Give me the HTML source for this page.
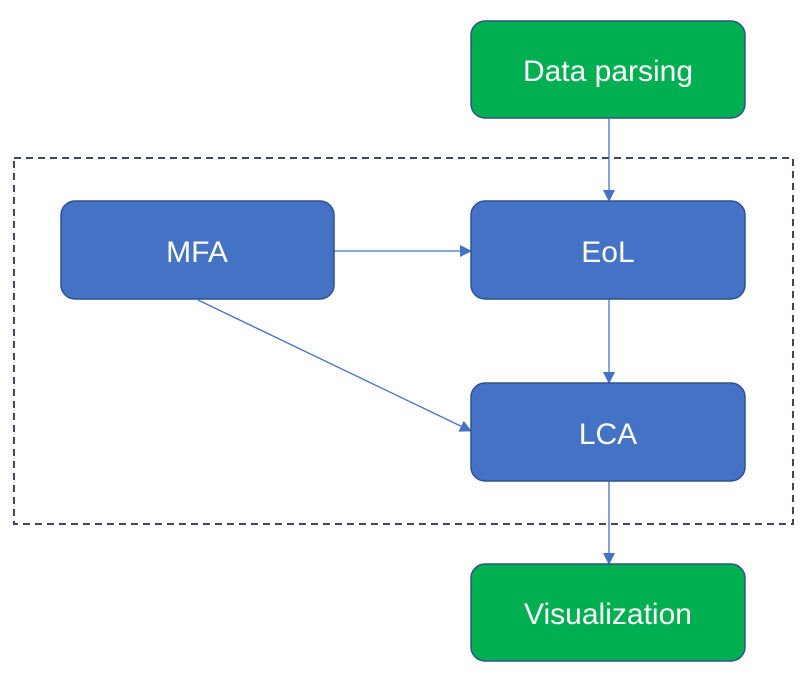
<!DOCTYPE html>
<html><head><meta charset="utf-8"><style>
html,body{margin:0;padding:0;background:#fff;}
</style></head><body>
<svg width="812" height="685" viewBox="0 0 812 685" xmlns="http://www.w3.org/2000/svg" font-family="Liberation Sans, sans-serif">
<defs><marker id="a" markerWidth="12" markerHeight="12" refX="11" refY="6" orient="auto" markerUnits="userSpaceOnUse"><path d="M0,0 L12,6 L0,12 z" fill="#4472c4"/></marker></defs>
<rect x="14" y="158" width="779" height="366" fill="none" stroke="#3b4a60" stroke-width="2" stroke-dasharray="7,5"/>
<g stroke="#4472c4" stroke-width="1.3" fill="none" marker-end="url(#a)">
<line x1="609" y1="119" x2="609" y2="201"/>
<line x1="334" y1="251" x2="471" y2="251"/>
<line x1="609" y1="299" x2="609" y2="383"/>
<line x1="198" y1="300" x2="471" y2="431"/>
<line x1="609" y1="481" x2="609" y2="564"/>
</g>
<g stroke="#2f528f" stroke-width="1.5">
<rect x="471" y="21" width="274" height="97" rx="14" fill="#00b050"/>
<rect x="471" y="201" width="274" height="98" rx="14" fill="#4472c4"/>
<rect x="61" y="201" width="273" height="98" rx="14" fill="#4472c4"/>
<rect x="471" y="383" width="274" height="98" rx="14" fill="#4472c4"/>
<rect x="471" y="564" width="274" height="97" rx="14" fill="#00b050"/>
</g>
<g fill="#fff" font-size="30" text-anchor="middle">
<text x="608" y="81">Data parsing</text>
<text x="608" y="262">EoL</text>
<text x="197" y="262">MFA</text>
<text x="608" y="444">LCA</text>
<text x="608" y="624">Visualization</text>
</g>
</svg>
</body></html>
